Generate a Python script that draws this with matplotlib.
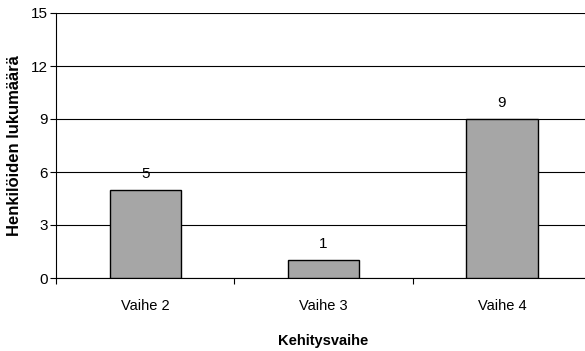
import matplotlib
matplotlib.use("Agg")
import matplotlib.pyplot as plt

categories = ["Vaihe 2", "Vaihe 3", "Vaihe 4"]
counts = [5, 1, 9]
yticks = [0, 3, 6, 9, 12, 15]

plt.rcParams.update({"font.family": ["Liberation Sans", "DejaVu Sans"]})

fig = plt.figure(figsize=(5.85, 3.51), dpi=100)
ax = fig.add_axes([56 / 585, 73 / 351, 535 / 585, 265 / 351])

x = range(len(categories))
bars = ax.bar(x, counts, width=0.4, color="#a6a6a6", edgecolor="black", linewidth=1.0, zorder=3)
for xi, v in zip(x, counts):
    ax.text(xi, v + 0.5, str(v), ha="center", va="bottom", fontsize=11)

ax.set_xlim(-0.5, len(categories) - 0.5)
ax.set_ylim(0, 15)
ax.set_yticks(yticks)
ax.yaxis.grid(True, color="black", lw=0.8, zorder=0)
ax.set_axisbelow(True)

ax.set_xticks([i - 0.5 for i in range(len(categories) + 1)])
ax.set_xticklabels([])
ax.set_xticks(list(x), minor=True)
ax.set_xticklabels(categories, minor=True, fontsize=10.5)
ax.tick_params(axis="x", which="major", length=4, direction="out", width=0.8)
ax.tick_params(axis="x", which="minor", length=0, pad=15)
ax.tick_params(axis="y", length=4, direction="out", width=0.8, labelsize=11, pad=2)

for s in ["top", "right"]:
    ax.spines[s].set_visible(False)
for s in ["left", "bottom"]:
    ax.spines[s].set_color("black")
    ax.spines[s].set_linewidth(0.8)

ax.set_ylabel("Henkilöiden lukumäärä", fontsize=12, fontweight="bold", labelpad=6)
ax.set_xlabel("Kehitysvaihe", fontsize=10.5, fontweight="bold", labelpad=15)

fig.savefig("out.png", dpi=100)
